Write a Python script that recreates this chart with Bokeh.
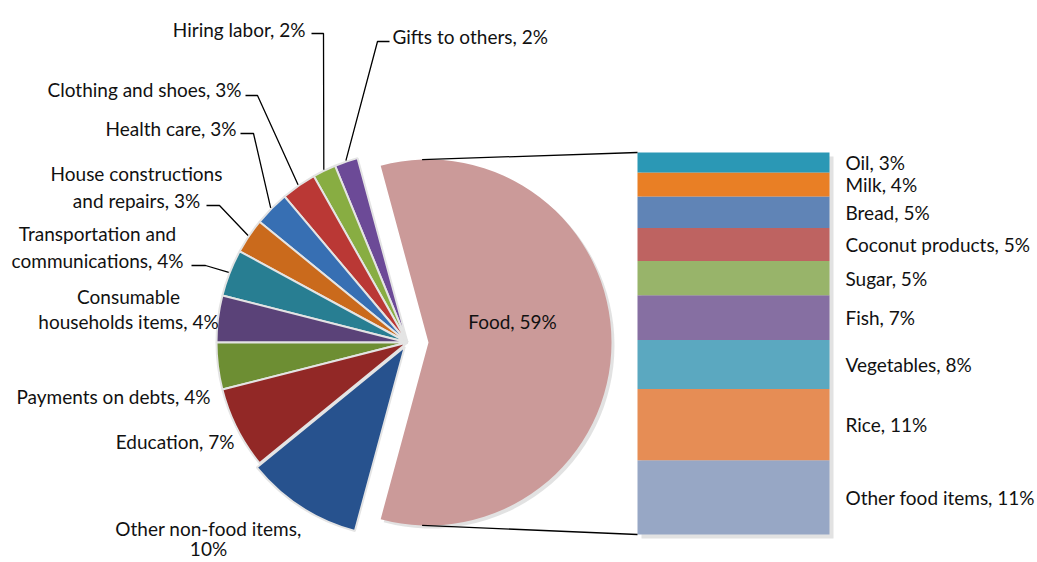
import numpy as np
from bokeh.plotting import figure
from bokeh.models import Range1d
from bokeh.core.properties import value
from bokeh.embed import file_html
from bokeh.resources import INLINE

# ---------------- data ----------------
pie_labels = ["Food", "Gifts to others", "Hiring labor", "Clothing and shoes",
              "Health care", "House constructions and repairs",
              "Transportation and communications", "Consumable households items",
              "Payments on debts", "Education", "Other non-food items"]
pie_values = [59, 2, 2, 3, 3, 3, 4, 4, 4, 7, 10]
pie_colors = ["#CB9A99", "#6C4A97", "#88AD42", "#BA3835", "#376FB3", "#CA6A1C",
              "#287E92", "#5A4278", "#6D8E33", "#922826", "#27528E"]

food_labels = ["Other food items", "Rice", "Vegetables", "Fish", "Sugar",
               "Coconut products", "Bread", "Milk", "Oil"]
food_values = [11.5, 11.0, 7.6, 6.9, 5.3, 5.1, 4.9, 3.7, 3.1]
food_pct = [11, 11, 8, 7, 5, 5, 5, 4, 3]
food_colors = ["#97A7C5", "#E68D55", "#5BA8C0", "#866FA2", "#98B46A",
               "#BE6361", "#6084B6", "#E97F25", "#2B98B5"]

# ---------------- layout ----------------
W, H = 1037, 562
def Y(py):
    return H - py

FONT = value("Lato")
FS = "19px"

p = figure(width=W, height=H, output_backend="svg", toolbar_location=None,
           x_range=Range1d(0, W), y_range=Range1d(0, H),
           min_border=0, outline_line_color=None,
           x_axis_location=None, y_axis_location=None)
p.grid.visible = False
p.background_fill_color = "white"

total = float(sum(pie_values))
ang = [v / total * 2 * np.pi for v in pie_values]

# pie geometry
food_cx, food_cy, food_r = 428, Y(342), 183
cx, cy, r = 407, Y(342), 191
half = ang[0] / 2

# food shadow + wedge
p.wedge(x=food_cx + 3, y=food_cy - 3, radius=food_r, start_angle=-half, end_angle=half,
        fill_color="#cfcfcf", fill_alpha=0.6, line_color=None)
p.wedge(x=food_cx, y=food_cy, radius=food_r, start_angle=-half, end_angle=half,
        fill_color=pie_colors[0], line_color=None)

# other slices
explode = {10: 5}
starts, ends, mids = [], [], []
a = half
for i in range(1, len(pie_values)):
    s, e = a, a + ang[i]
    starts.append(s); ends.append(e); mids.append((s + e) / 2)
    a = e
for k, i in enumerate(range(1, len(pie_values))):
    d = explode.get(i, 0)
    x0 = cx + d * np.cos(mids[k]); y0 = cy + d * np.sin(mids[k])
    p.wedge(x=x0, y=y0, radius=r, start_angle=starts[k], end_angle=ends[k],
            fill_color=pie_colors[i], line_color="#e4e4e4", line_width=2)

# bar of food breakdown
bar_left, bar_right, bar_bottom, bar_top = 637, 829, Y(534), Y(152)
scale = (bar_top - bar_bottom) / sum(food_values)
cum = np.concatenate([[0], np.cumsum(food_values)])
bots = bar_bottom + cum[:-1] * scale
tops = bar_bottom + cum[1:] * scale
p.quad(left=bar_left + 4, right=bar_right + 4, bottom=bar_bottom - 4, top=bar_top - 4,
       fill_color="#d6d6d6", fill_alpha=0.7, line_color=None)
p.quad(left=[bar_left] * len(food_values), right=[bar_right] * len(food_values),
       bottom=bots, top=tops, fill_color=food_colors, line_color=None)

# connector lines
ca = np.deg2rad(92)
p.line([food_cx + food_r * np.cos(ca), bar_left], [food_cy + food_r * np.sin(ca), bar_top],
       line_color="black", line_width=1.3)
p.line([food_cx + food_r * np.cos(ca), bar_left], [food_cy - food_r * np.sin(ca), bar_bottom],
       line_color="black", line_width=1.3)

# labels of the pie
# (index, align, x, [y lines], words on first line, elbow(x,y), end(x,y))
lab_layout = [
    (1, "left", 392, [36], None, (377, 41), (389, 41)),
    (2, "right", 305, [29], None, (323, 33), (311, 33)),
    (3, "right", 241, [89], None, (257, 95), (245, 95)),
    (4, "right", 236, [128], None, (253, 133), (240, 133)),
    (5, "center", 136, [173, 200], 2, (219, 205), (206, 205)),
    (6, "center", 97, [233, 260], 2, (205, 265), (191, 265)),
    (7, "center", 128, [296, 321], 1, None, None),
    (8, "right", 210, [396], None, None, None),
    (9, "right", 234, [441], None, None, None),
    (10, "center", 208, [528, 548], 3, None, None),
]
groups = {"left": ([], [], []), "right": ([], [], []), "center": ([], [], [])}
for (i, al, tx, tys, nfirst, elbow, end) in lab_layout:
    full = f"{pie_labels[i]}, {pie_values[i]}%"
    if nfirst is None:
        lines = [full]
    else:
        words = full.split(" ")
        lines = [" ".join(words[:nfirst]), " ".join(words[nfirst:])]
    for ln, ty in zip(lines, tys):
        groups[al][0].append(tx); groups[al][1].append(Y(ty)); groups[al][2].append(ln)
    if elbow is not None:
        k = i - 1
        ax = cx + (r + 1) * np.cos(mids[k]); ay = cy + (r + 1) * np.sin(mids[k])
        p.line([ax, elbow[0], end[0]], [ay, Y(elbow[1]), Y(end[1])],
               line_color="black", line_width=1.3)

# food label inside slice
groups["center"][0].append(512); groups["center"][1].append(Y(321))
groups["center"][2].append(f"{pie_labels[0]}, {pie_values[0]}%")

# bar labels
for j in range(len(food_values)):
    groups["left"][0].append(845)
    groups["left"][1].append((bots[j] + tops[j]) / 2)
    groups["left"][2].append(f"{food_labels[j]}, {food_pct[j]}%")

for al, (xs, ys, ts) in groups.items():
    p.text(x=xs, y=ys, text=ts, text_align=al, text_baseline="middle",
           text_font=FONT, text_font_size=FS, text_color="#111111")

open("out.html", "w").write(file_html(p, INLINE))
